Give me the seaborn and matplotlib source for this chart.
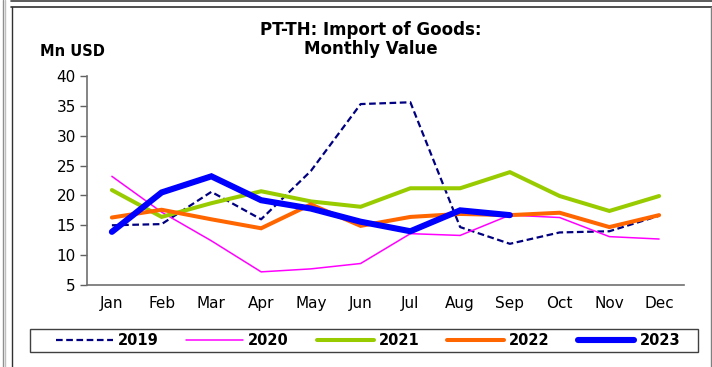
import matplotlib
matplotlib.use("Agg")
import matplotlib.pyplot as plt
from matplotlib.lines import Line2D
from matplotlib.patches import Rectangle
import seaborn as sns
import pandas as pd
import numpy as np

months = ["Jan", "Feb", "Mar", "Apr", "May", "Jun",
          "Jul", "Aug", "Sep", "Oct", "Nov", "Dec"]

v2019 = [15.0, 15.2, 20.6, 16.0, 24.1, 35.3, 35.6, 14.7, 11.9, 13.8, 14.0, 16.6]
v2020 = [23.2, 17.2, 12.4, 7.2, 7.7, 8.6, 13.6, 13.3, 16.7, 16.3, 13.1, 12.7]
v2021 = [20.9, 16.4, 18.7, 20.7, 19.0, 18.1, 21.2, 21.2, 23.9, 19.9, 17.4, 19.9]
v2022 = [16.3, 17.6, 16.0, 14.5, 18.5, 14.9, 16.4, 16.9, 16.7, 17.1, 14.7, 16.7]
v2023 = [13.9, 20.5, 23.2, 19.2, 17.8, 15.6, 14.0, 17.5, 16.7]

years = ["2019", "2020", "2021", "2022", "2023"]
series = [v2019, v2020, v2021, v2022, v2023]
colors = ["#000080", "#FF00FF", "#99CC00", "#FF6600", "#0000FF"]
widths = [1.6, 1.1, 2.9, 2.9, 4.4]
styles = [(0, (3, 1.6)), "-", "-", "-", "-"]

rows = []
for yr, vals in zip(years, series):
    for i, v in enumerate(vals):
        rows.append({"year": yr, "month": i, "value": v})
df = pd.DataFrame(rows)

sns.set_theme(style="white")
plt.rcParams["font.family"] = ["DejaVu Sans"]
plt.rcParams["text.color"] = "black"

W, H = 712, 367
fig = plt.figure(figsize=(W / 100, H / 100), dpi=100)
ax = fig.add_axes([87 / W, 1 - 285 / H, (684 - 87) / W, (285 - 76) / H])

for yr, col, lw, ls in zip(years, colors, widths, styles):
    sub = df[df["year"] == yr]
    sns.lineplot(data=sub, x="month", y="value", ax=ax, color=col,
                 linewidth=lw, linestyle=ls, sort=False, legend=False)
    ax.lines[-1].set_solid_capstyle("round")
    ax.lines[-1].set_solid_joinstyle("miter")

ax.set_xlim(-0.5, 11.5)
ax.set_ylim(5, 40)
ax.set_yticks(np.arange(5, 41, 5))
ax.set_xticks(np.arange(-0.5, 12, 1))
ax.set_xticklabels([])
ax.set_xticks(np.arange(12), minor=True)
ax.set_xticklabels(months, minor=True)
ax.tick_params(axis="x", which="major", direction="in", length=5,
               color="#606060", width=1)
ax.tick_params(axis="x", which="minor", length=0, pad=8, labelsize=11,
               labelcolor="black")
ax.tick_params(axis="y", direction="out", length=5, color="#606060",
               width=1, pad=3, labelsize=11, labelcolor="black", left=True)
ax.set_xlabel("")
ax.set_ylabel("")
for side in ["top", "right"]:
    ax.spines[side].set_visible(False)
for side in ["left", "bottom"]:
    ax.spines[side].set_color("#707070")
    ax.spines[side].set_linewidth(1.2)

fig.text(371 / W, 1 - 30 / H, "PT-TH: Import of Goods:", ha="center",
         va="center", fontsize=12, fontweight="bold", color="black")
fig.text(371 / W, 1 - 49.5 / H, "Monthly Value", ha="center",
         va="center", fontsize=12, fontweight="bold", color="black")
fig.text(72 / W, 1 - 52 / H, "Mn USD", ha="center", va="center",
         fontsize=10.5, fontweight="bold", color="black")

# legend strip with its own box
fig.add_artist(Rectangle((30 / W, 1 - 352 / H), 668 / W, 23 / H,
                         transform=fig.transFigure, facecolor="white",
                         edgecolor="#404040", linewidth=1.0))
handles = [Line2D([], [], color=c, linewidth=w, linestyle=s,
                  solid_capstyle="round")
           for c, w, s in zip(colors, widths, styles)]
leg = fig.legend(handles, years, loc="center", ncol=5,
                 bbox_to_anchor=(368 / W, 1 - 340.5 / H),
                 frameon=False, handlelength=3.9,
                 handletextpad=0.35, columnspacing=1.9, borderpad=0.2,
                 prop={"weight": "bold", "size": 10.5})
for t in leg.get_texts():
    t.set_color("black")


# outer chart frame
def fline(xs, ys, color, lw):
    fig.add_artist(Line2D([x / W for x in xs], [1 - y / H for y in ys],
                          transform=fig.transFigure, color=color,
                          linewidth=lw))


fline([11, 712], [0.8, 0.8], "#404040", 1.2)
fline([11, 712], [7, 7], "#303030", 1.2)
fline([11.5, 11.5], [7, 367], "#303030", 1.0)
fline([710.5, 710.5], [7, 367], "#808080", 1.0)
fline([2.5, 2.5], [0, 367], "#909090", 1.0)
fline([4.5, 4.5], [0, 367], "#c0c0c0", 1.0)

fig.savefig("out.png", dpi=100)
